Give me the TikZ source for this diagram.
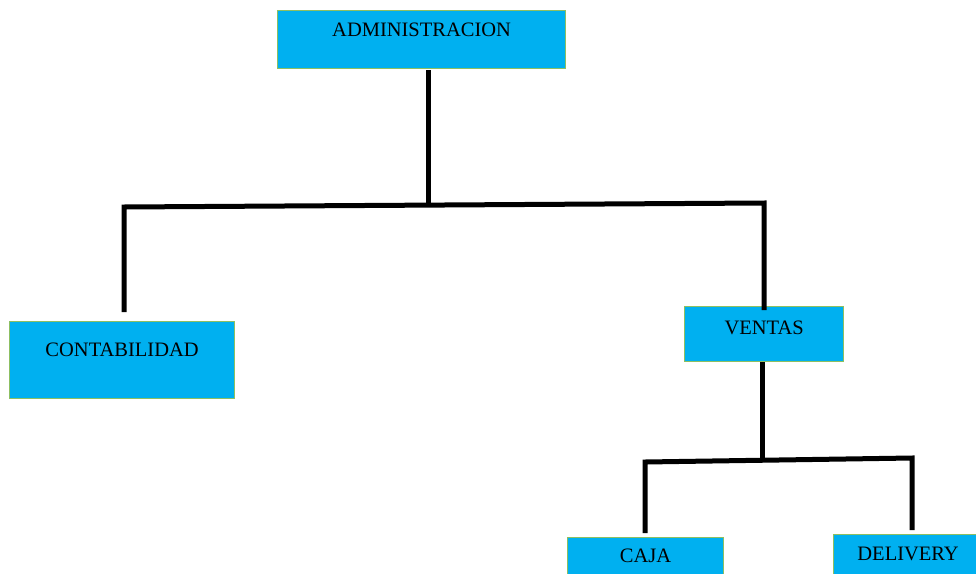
\documentclass[tikz,border=0pt]{standalone}
\usepackage{fontspec}
\setmainfont{Liberation Serif}
\definecolor{boxfill}{HTML}{00B0F0}
\definecolor{boxline}{HTML}{8DBF62}
\begin{document}
\begin{tikzpicture}[x=1pt,y=-1pt,
  orgbox/.style={draw=boxline, line width=1.2pt, fill=boxfill, inner sep=0pt,
    align=center, font=\fontsize{20.5}{24}\selectfont},
  link/.style={line width=5pt, black, line join=miter}]
\useasboundingbox (0,0) rectangle (976,573);
\node[orgbox, anchor=north west, text width=288pt, text height=26pt, text depth=32pt] (admin) at (277,10) {ADMINISTRACION};
\node[orgbox, anchor=north west, text width=225pt, text height=35pt, text depth=42pt] (conta) at (9,321) {CONTABILIDAD};
\node[orgbox, anchor=north west, text width=159pt, text height=28pt, text depth=27pt] (ventas) at (684,306) {VENTAS};
\node[orgbox, anchor=north west, text width=156pt, text height=25pt, text depth=24pt] (caja) at (567,537) {CAJA};
\node[orgbox, anchor=north west, text width=149pt, text height=26pt, text depth=24pt] (deliv) at (833,534) {DELIVERY};
\coordinate (atop) at (428,70);
\coordinate (joint) at (428,206);
\coordinate (hl) at (124,207);
\coordinate (hr) at (764,203);
\coordinate (cend) at (124,312);
\coordinate (vend) at (764,310);
\coordinate (vjoint) at (762,460);
\coordinate (bl) at (645,462);
\coordinate (br) at (912,458);
\coordinate (cajaend) at (645,533);
\coordinate (delend) at (912,530);
\draw[link] (atop) -- (joint);
\draw[link] (cend) -- (hl) -- (hr) -- (vend);
\draw[link] (ventas.south -| vjoint) -- (vjoint);
\draw[link] (cajaend) -- (bl) -- (br) -- (delend);
\end{tikzpicture}
\end{document}
